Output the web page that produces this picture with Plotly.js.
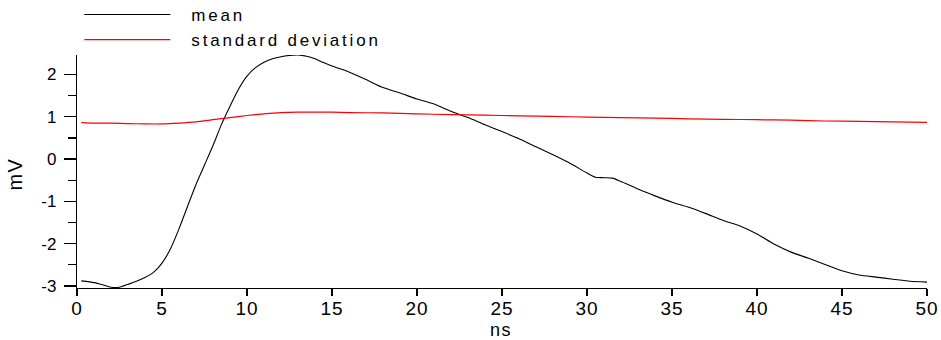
<!DOCTYPE html>
<html>
<head>
<meta charset="utf-8">
<script src="https://cdn.plot.ly/plotly-3.0.1.min.js"></script>
<style>
  html, body { margin: 0; padding: 0; background: #fff; }
  #chart { width: 941px; height: 340px; }
  .legendtext { letter-spacing: 2.8px; transform: translateX(16px); }
  .legend .scrollbox { clip-path: none !important; transform: translateY(-3px); }
  .annotation-text { letter-spacing: 1.5px; }
  .xtick text { letter-spacing: 1px; }
</style>
</head>
<body>
<div id="chart"></div>
<script>
// time axis (ns) for the mean trace
const meanTime = [0.25, 1, 1.5, 2, 2.5, 3, 3.5, 4, 4.5, 5, 5.5, 6, 6.5, 7, 7.5, 8, 8.5, 9, 9.5, 10,
  10.5, 11, 11.5, 12, 12.5, 13, 13.5, 14, 14.5, 15, 16, 17, 18, 19, 20, 21, 22, 23, 24, 25,
  26, 27, 28, 29, 30, 30.5, 31, 31.5, 32, 33, 34, 35, 36, 37, 38, 39, 40, 41, 42, 43,
  44, 45, 46, 47, 48, 49, 50];
// mean (mV)
const meanValues = [-2.88, -2.92, -2.97, -3.03, -3.03, -2.96, -2.89, -2.80, -2.68, -2.46, -2.12, -1.65, -1.12, -0.60, -0.14, 0.32, 0.82, 1.25, 1.65, 1.96,
  2.16, 2.29, 2.37, 2.42, 2.45, 2.46, 2.43, 2.37, 2.28, 2.20, 2.06, 1.88, 1.69, 1.56, 1.42, 1.30, 1.13, 0.98, 0.81, 0.65,
  0.48, 0.29, 0.10, -0.10, -0.33, -0.43, -0.44, -0.45, -0.53, -0.71, -0.87, -1.02, -1.14, -1.29, -1.45, -1.58, -1.77, -2.01, -2.20, -2.34,
  -2.49, -2.64, -2.74, -2.79, -2.84, -2.89, -2.91];
// time axis (ns) for the standard deviation trace
const stdTime = [0.25, 1, 2, 3, 4, 5, 6, 7, 8, 9, 10, 11, 12, 13, 14, 15, 16, 18, 20, 22,
  24, 26, 28, 30, 32, 34, 36, 38, 40, 42, 44, 46, 48, 50];
// standard deviation (mV)
const stdValues = [0.86, 0.85, 0.85, 0.84, 0.83, 0.83, 0.85, 0.88, 0.93, 0.98, 1.03, 1.07, 1.10, 1.11, 1.11, 1.11, 1.10, 1.09, 1.07, 1.05,
  1.04, 1.02, 1.01, 0.99, 0.98, 0.97, 0.95, 0.94, 0.93, 0.92, 0.90, 0.89, 0.88, 0.865];

const seriesNames = ['mean', 'standard deviation'];
const xTickVals = [0, 5, 10, 15, 20, 25, 30, 35, 40, 45, 50];
const yTickVals = [-3, -2, -1, 0, 1, 2];
const xTitle = 'ns';
const yTitle = 'mV';

const FONT = 'Liberation Sans, Arial, Helvetica, sans-serif';

const traces = [
  { x: meanTime, y: meanValues, name: seriesNames[0], type: 'scatter', mode: 'lines',
    line: { color: '#000000', width: 1.1, shape: 'spline', smoothing: 0.6 } },
  { x: stdTime, y: stdValues, name: seriesNames[1], type: 'scatter', mode: 'lines',
    line: { color: '#ff0000', width: 1.2, shape: 'spline', smoothing: 0.6 } }
];

const layout = {
  width: 941, height: 340,
  margin: { l: 77, r: 14, t: 55, b: 52, autoexpand: false },
  paper_bgcolor: '#ffffff', plot_bgcolor: '#ffffff',
  font: { family: FONT, color: '#000000', size: 18 },
  showlegend: true,
  legend: {
    xref: 'container', yref: 'container',
    x: 0.0843, y: 1.0, xanchor: 'left', yanchor: 'top',
    bgcolor: 'rgba(0,0,0,0)', borderwidth: 0,
    font: { family: FONT, size: 17, color: '#000' },
    itemwidth: 86, tracegroupgap: 0
  },
  xaxis: {
    range: [0, 50], tickvals: xTickVals, ticktext: xTickVals.map(String),
    showgrid: false, zeroline: false, showline: true, linecolor: '#000', linewidth: 1.2,
    ticks: 'outside', ticklen: 7, tickwidth: 1.2, tickcolor: '#000',
    tickfont: { family: FONT, size: 19 },
    ticklabelstandoff: -4,
    automargin: false,
    fixedrange: true
  },
  yaxis: {
    range: [-3.048, 2.46], tickvals: yTickVals, ticktext: yTickVals.map(String),
    showgrid: false, zeroline: false, showline: true, linecolor: '#000', linewidth: 1.2,
    ticks: 'outside', ticklen: 12, tickwidth: 1.2, tickcolor: '#000',
    tickfont: { family: FONT, size: 17 },
    ticklabelstandoff: 4,
    minor: { dtick: 0.5, tick0: 0, ticks: 'outside', ticklen: 8, tickwidth: 1.2, tickcolor: '#000', showgrid: false },
    automargin: false,
    fixedrange: true
  },
  annotations: [
    { text: xTitle, xref: 'paper', yref: 'paper', x: 0.4988, y: -0.179,
      xanchor: 'center', yanchor: 'middle', showarrow: false,
      font: { family: FONT, size: 18, color: '#000' } },
    { text: yTitle, xref: 'paper', yref: 'paper', x: -0.073, y: 0.491, textangle: -90,
      xanchor: 'center', yanchor: 'middle', showarrow: false,
      font: { family: FONT, size: 20, color: '#000' } }
  ]
};

Plotly.newPlot('chart', traces, layout, { displayModeBar: false, staticPlot: true });
</script>
</body>
</html>
